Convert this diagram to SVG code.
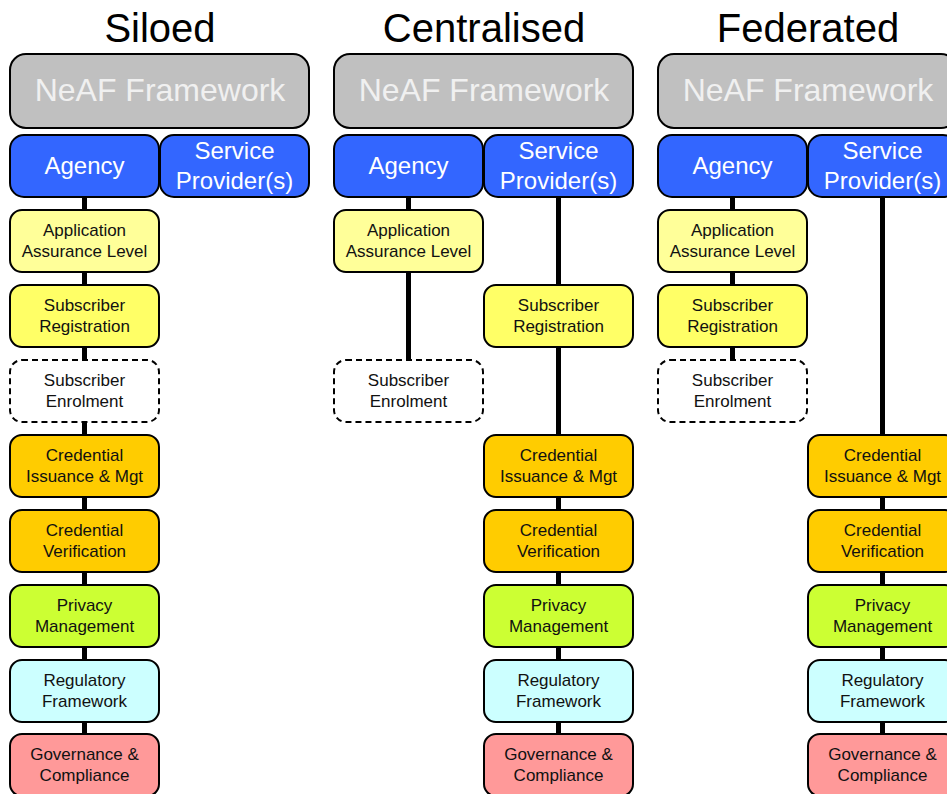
<svg xmlns="http://www.w3.org/2000/svg" width="947" height="794" viewBox="0 0 947 794">
<style>
text{font-family:"Liberation Sans",Arial,sans-serif;text-anchor:middle}
.title{font-size:40px;fill:#000}
.fw rect{fill:#c0c0c0;stroke:#000;stroke-width:2}
.fw text{font-size:32px;fill:#f0f0f0}
.bl rect{fill:#3366ff;stroke:#000;stroke-width:2}
.bl text{font-size:24px;fill:#fff}
.n rect{stroke:#000;stroke-width:2}
.n text{font-size:17px;fill:#111}
.aal rect{fill:#ffff99}
.reg rect{fill:#ffff66}
.enr rect{fill:#fff;stroke-dasharray:6 4}
.cred rect{fill:#ffcc00}
.priv rect{fill:#ccff33}
.regf rect{fill:#ccffff}
.gov rect{fill:#ff9999}
.conn line{stroke:#000;stroke-width:5}
</style>
<g id="titles">
<text class="title" x="160" y="42">Siloed</text>
<text class="title" x="484" y="42">Centralised</text>
<text class="title" x="808" y="42">Federated</text>
</g>
<g id="connectors" class="conn">
<line x1="84.5" y1="196" x2="84.5" y2="736"/>
<line x1="408.5" y1="196" x2="408.5" y2="361"/>
<line x1="558.5" y1="196" x2="558.5" y2="736"/>
<line x1="732.5" y1="196" x2="732.5" y2="361"/>
<line x1="882.5" y1="196" x2="882.5" y2="736"/>
</g>
<!-- Siloed -->
<g id="s-neaf" class="fw"><rect x="10" y="54" width="299" height="74" rx="16"/><text x="160" y="101">NeAF Framework</text></g>
<g id="s-agency" class="bl"><rect x="10" y="135" width="149" height="62" rx="14"/><text x="84.5" y="174">Agency</text></g>
<g id="s-sp" class="bl"><rect x="160" y="135" width="149" height="62" rx="14"/><text x="234.5" y="159">Service</text><text x="234.5" y="189">Provider(s)</text></g>
<g id="s-aal" class="n aal"><rect x="10" y="210" width="149" height="62" rx="12"/><text x="84.5" y="236">Application</text><text x="84.5" y="257">Assurance Level</text></g>
<g id="s-reg" class="n reg"><rect x="10" y="285" width="149" height="62" rx="12"/><text x="84.5" y="311">Subscriber</text><text x="84.5" y="332">Registration</text></g>
<g id="s-enr" class="n enr"><rect x="10" y="360" width="149" height="62" rx="12"/><text x="84.5" y="386">Subscriber</text><text x="84.5" y="407">Enrolment</text></g>
<g id="s-cim" class="n cred"><rect x="10" y="435" width="149" height="62" rx="12"/><text x="84.5" y="461">Credential</text><text x="84.5" y="482">Issuance &amp; Mgt</text></g>
<g id="s-cv" class="n cred"><rect x="10" y="510" width="149" height="62" rx="12"/><text x="84.5" y="536">Credential</text><text x="84.5" y="557">Verification</text></g>
<g id="s-pm" class="n priv"><rect x="10" y="585" width="149" height="62" rx="12"/><text x="84.5" y="611">Privacy</text><text x="84.5" y="632">Management</text></g>
<g id="s-rf" class="n regf"><rect x="10" y="660" width="149" height="62" rx="12"/><text x="84.5" y="686">Regulatory</text><text x="84.5" y="707">Framework</text></g>
<g id="s-gc" class="n gov"><rect x="10" y="734" width="149" height="62" rx="12"/><text x="84.5" y="760">Governance &amp;</text><text x="84.5" y="781">Compliance</text></g>
<!-- Centralised -->
<g id="c-neaf" class="fw"><rect x="334" y="54" width="299" height="74" rx="16"/><text x="484" y="101">NeAF Framework</text></g>
<g id="c-agency" class="bl"><rect x="334" y="135" width="149" height="62" rx="14"/><text x="408.5" y="174">Agency</text></g>
<g id="c-sp" class="bl"><rect x="484" y="135" width="149" height="62" rx="14"/><text x="558.5" y="159">Service</text><text x="558.5" y="189">Provider(s)</text></g>
<g id="c-aal" class="n aal"><rect x="334" y="210" width="149" height="62" rx="12"/><text x="408.5" y="236">Application</text><text x="408.5" y="257">Assurance Level</text></g>
<g id="c-reg" class="n reg"><rect x="484" y="285" width="149" height="62" rx="12"/><text x="558.5" y="311">Subscriber</text><text x="558.5" y="332">Registration</text></g>
<g id="c-enr" class="n enr"><rect x="334" y="360" width="149" height="62" rx="12"/><text x="408.5" y="386">Subscriber</text><text x="408.5" y="407">Enrolment</text></g>
<g id="c-cim" class="n cred"><rect x="484" y="435" width="149" height="62" rx="12"/><text x="558.5" y="461">Credential</text><text x="558.5" y="482">Issuance &amp; Mgt</text></g>
<g id="c-cv" class="n cred"><rect x="484" y="510" width="149" height="62" rx="12"/><text x="558.5" y="536">Credential</text><text x="558.5" y="557">Verification</text></g>
<g id="c-pm" class="n priv"><rect x="484" y="585" width="149" height="62" rx="12"/><text x="558.5" y="611">Privacy</text><text x="558.5" y="632">Management</text></g>
<g id="c-rf" class="n regf"><rect x="484" y="660" width="149" height="62" rx="12"/><text x="558.5" y="686">Regulatory</text><text x="558.5" y="707">Framework</text></g>
<g id="c-gc" class="n gov"><rect x="484" y="734" width="149" height="62" rx="12"/><text x="558.5" y="760">Governance &amp;</text><text x="558.5" y="781">Compliance</text></g>
<!-- Federated -->
<g id="f-neaf" class="fw"><rect x="658" y="54" width="299" height="74" rx="16"/><text x="808" y="101">NeAF Framework</text></g>
<g id="f-agency" class="bl"><rect x="658" y="135" width="149" height="62" rx="14"/><text x="732.5" y="174">Agency</text></g>
<g id="f-sp" class="bl"><rect x="808" y="135" width="149" height="62" rx="14"/><text x="882.5" y="159">Service</text><text x="882.5" y="189">Provider(s)</text></g>
<g id="f-aal" class="n aal"><rect x="658" y="210" width="149" height="62" rx="12"/><text x="732.5" y="236">Application</text><text x="732.5" y="257">Assurance Level</text></g>
<g id="f-reg" class="n reg"><rect x="658" y="285" width="149" height="62" rx="12"/><text x="732.5" y="311">Subscriber</text><text x="732.5" y="332">Registration</text></g>
<g id="f-enr" class="n enr"><rect x="658" y="360" width="149" height="62" rx="12"/><text x="732.5" y="386">Subscriber</text><text x="732.5" y="407">Enrolment</text></g>
<g id="f-cim" class="n cred"><rect x="808" y="435" width="149" height="62" rx="12"/><text x="882.5" y="461">Credential</text><text x="882.5" y="482">Issuance &amp; Mgt</text></g>
<g id="f-cv" class="n cred"><rect x="808" y="510" width="149" height="62" rx="12"/><text x="882.5" y="536">Credential</text><text x="882.5" y="557">Verification</text></g>
<g id="f-pm" class="n priv"><rect x="808" y="585" width="149" height="62" rx="12"/><text x="882.5" y="611">Privacy</text><text x="882.5" y="632">Management</text></g>
<g id="f-rf" class="n regf"><rect x="808" y="660" width="149" height="62" rx="12"/><text x="882.5" y="686">Regulatory</text><text x="882.5" y="707">Framework</text></g>
<g id="f-gc" class="n gov"><rect x="808" y="734" width="149" height="62" rx="12"/><text x="882.5" y="760">Governance &amp;</text><text x="882.5" y="781">Compliance</text></g>
</svg>
